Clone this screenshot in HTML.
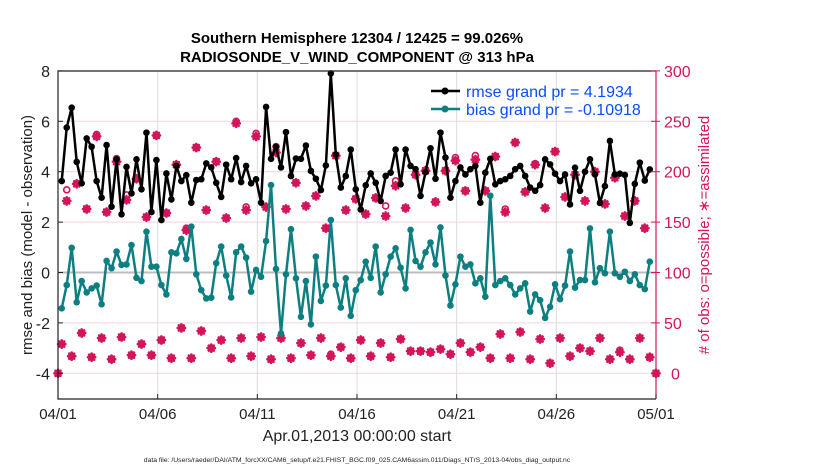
<!DOCTYPE html>
<html><head><meta charset="utf-8"><style>
html,body{margin:0;padding:0;background:#fff;}
svg{display:block;font-family:"Liberation Sans",Arial,sans-serif;}
</style></head><body>
<svg id="chart" width="830" height="470" viewBox="0 0 830 470">
<text x="357" y="43" text-anchor="middle" font-size="15" font-weight="bold" fill="#000">Southern Hemisphere 12304 / 12425 = 99.026%</text>
<text x="357" y="62" text-anchor="middle" font-size="15" font-weight="bold" fill="#000">RADIOSONDE_V_WIND_COMPONENT @ 313 hPa</text>
<g id="grid"></g>
<g id="marks"></g>
<g id="axes"></g>
<g>
<line x1="431" y1="91" x2="460" y2="91" stroke="#000" stroke-width="2.5"/>
<circle cx="445" cy="91" r="3.5" fill="#000"/>
<text x="466" y="97" font-size="16" fill="#0a4cff">rmse grand pr = 4.1934</text>
<line x1="431" y1="109" x2="460" y2="109" stroke="#0d7f80" stroke-width="2.5"/>
<circle cx="445" cy="109" r="3.5" fill="#0d7f80"/>
<text x="466" y="115" font-size="16" fill="#0a4cff">bias grand pr = -0.10918</text>
</g>
<text transform="translate(32,235) rotate(-90)" text-anchor="middle" font-size="15" fill="#222">rmse and bias (model - observation)</text>
<text transform="translate(709,235) rotate(-90)" text-anchor="middle" font-size="15" fill="#d4145a"># of obs: o=possible; ∗=assimilated</text>
<text x="357" y="441" text-anchor="middle" font-size="16" fill="#222">Apr.01,2013 00:00:00 start</text>
<text x="357" y="462" text-anchor="middle" font-size="6.8" fill="#222">data file: /Users/raeder/DAI/ATM_forcXX/CAM6_setup/f.e21.FHIST_BGC.f09_025.CAM6assim.011/Diags_NTrS_2013-04/obs_diag_output.nc</text>
</svg>
<script>
const xTickLabels = ["04/01","04/06","04/11","04/16","04/21","04/26","05/01"];
const xTickDays = [0,5,10,15,20,25,30];
const yLeftTicks = [8,6,4,2,0,-2,-4];
const yRightTicks = [300,250,200,150,100,50,0];
const rmse = [3.63,5.75,6.54,4.39,3.54,5.32,4.99,3.63,2.97,5.06,2.61,4.49,2.31,4.19,3.14,4.49,3.30,5.55,2.40,4.46,2.08,3.93,2.90,4.23,3.63,3.86,2.77,3.67,3.70,4.33,4.17,3.56,
3.00,4.28,3.70,4.54,3.59,4.23,3.54,3.70,2.77,6.57,4.51,4.99,4.17,5.57,3.83,4.52,4.51,5.04,4.03,3.72,3.27,4.25,7.90,4.68,3.37,3.83,4.88,3.30,2.50,3.46,3.93,
3.56,2.84,3.83,3.96,4.88,3.50,4.88,4.23,4.10,3.04,3.98,4.93,3.72,5.55,4.56,2.97,3.63,4.17,3.89,4.10,4.23,2.77,3.96,4.51,3.50,3.63,3.70,3.83,4.10,4.23,3.83,
3.37,3.24,3.47,4.49,4.29,3.92,3.63,3.89,2.70,4.16,3.24,4.00,4.49,3.89,2.76,3.43,5.22,3.89,3.92,3.87,1.97,3.52,4.36,3.65,4.09];
const bias = [-1.42,-0.50,0.98,-1.18,-0.34,-0.79,-0.63,-0.52,-1.26,0.46,0.17,0.83,0.30,0.32,1.09,-0.21,-0.34,1.62,0.23,0.23,-0.50,-0.87,0.80,0.76,1.33,0.54,1.82,-0.07,-0.70,-1.03,-1.00,0.37,
1.03,-0.12,-0.99,0.80,1.03,0.59,-0.76,0.10,-0.17,1.25,3.47,0.14,-2.42,-0.07,1.72,-0.23,-1.76,-0.34,-2.06,0.63,-1.13,-0.52,2.08,-0.50,-1.39,-0.23,-1.72,-0.70,-0.30,0.43,-0.21,
1.03,-0.79,-0.07,0.63,0.96,0.19,-0.63,1.69,0.46,0.23,0.80,1.19,0.32,1.79,-0.12,-1.31,-0.47,0.63,0.23,0.32,-0.43,-0.23,-0.96,3.05,-0.50,-0.34,-0.23,-0.50,-0.87,-0.63,-0.43,
-1.55,-0.87,-1.10,-1.80,-1.36,-0.47,-1.06,-0.52,0.83,-0.60,-0.30,-0.30,1.75,-0.39,0.17,-0.03,1.62,-0.03,-0.17,0.03,-0.34,-0.07,-0.50,-0.66,0.43];
const assimilated = [0,29,171,17,188,40,163,16,235,35,160,14,210,36,172,18,193,29,155,18,236,33,159,15,207,45,142,15,224,42,162,25,210,
33,154,15,248,35,162,17,235,36,165,14,219,35,163,15,189,30,166,18,176,35,144,17,216,26,162,15,173,33,158,17,
174,30,156,16,186,34,164,22,197,22,201,21,170,24,201,19,211,30,181,21,212,26,181,15,215,39,160,15,229,41,180,
14,207,34,164,10,220,35,175,17,197,25,171,22,200,35,168,14,194,21,156,14,171,35,144,16,0];
const possible = [0,29,182,17,188,40,163,16,237,35,160,14,213,36,177,18,193,29,155,18,236,33,159,15,207,45,144,15,224,42,162,25,210,
33,154,15,250,35,165,17,238,36,165,14,225,35,163,15,189,30,166,18,176,35,144,19,216,26,162,15,173,33,158,17,
174,30,166,16,191,34,164,22,197,22,201,21,170,24,201,19,214,30,181,21,216,26,181,15,215,39,163,15,229,41,180,
14,208,34,164,10,220,35,175,17,197,25,171,22,200,35,168,14,194,23,156,14,171,35,144,16,0];

const NS = "http://www.w3.org/2000/svg";
const L = 58, R = 656, T = 71, B = 399;
function xDay(d){ return L + d/30*(R-L); }
function xIdx(i){ return xDay((4.5 + 6*i)/24); }
function yLeft(v){ return 272.5 - v*25.2; }
function yRight(v){ return yLeft(v/25 - 4); }
function mk(tag, attrs, parent){ const e=document.createElementNS(NS,tag); for(const k in attrs) e.setAttribute(k, attrs[k]); parent.appendChild(e); return e; }
const grid=document.getElementById('grid'), marks=document.getElementById('marks'), axes=document.getElementById('axes');

yRightTicks.forEach(v=>{ const g=mk('line',{x1:L,x2:R,y1:yRight(v),y2:yRight(v),stroke:'#f4d3df','stroke-width':1},grid);

 });
xTickDays.forEach(d=>{ const g=mk('line',{x1:xDay(d),x2:xDay(d),y1:T,y2:B,stroke:'#dcdcdc','stroke-width':1},grid);

 });
const zl=mk('line',{x1:L,x2:R,y1:yLeft(0),y2:yLeft(0),stroke:'#bdbdbd','stroke-width':2},grid);



function star(cx,cy,parent){
  const g=mk('g',{stroke:'#d4145a','stroke-width':2.6,'stroke-linecap':'round'},parent);
  
  
  const r=3.6;
  [[0,1],[1,0],[0.7,0.7],[0.7,-0.7]].forEach(([a,b])=>mk('line',{x1:cx-a*r,y1:cy-b*r,x2:cx+a*r,y2:cy+b*r},g));
}
possible.forEach((v,i)=>{ const x = i===possible.length-1 ? R : (i===0 ? L : xIdx(i-1));
  const c=mk('circle',{cx:x,cy:yRight(v),r:3,fill:'none',stroke:'#d4145a','stroke-width':1.6},marks);
  
   });
assimilated.forEach((v,i)=>{ const x = i===assimilated.length-1 ? R : (i===0 ? L : xIdx(i-1)); star(x,yRight(v),marks); });

function series(vals,color,name){
  const p=mk('polyline',{points:vals.map((v,i)=>xIdx(i).toFixed(1)+','+yLeft(v).toFixed(1)).join(' '),fill:'none',stroke:color,'stroke-width':2.5,'stroke-linejoin':'round'},marks);
  
  
  vals.forEach((v,i)=>{ const c=mk('circle',{cx:xIdx(i),cy:yLeft(v),r:3.3,fill:color},marks);
    
     });
}
series(bias,'#0d7f80','bias');
series(rmse,'#000','rmse');

const ax=mk('path',{d:`M${R},${T} L${L},${T} L${L},${B} L${R},${B}`,fill:'none',stroke:'#222','stroke-width':1.2},axes);


const ra=mk('line',{x1:R,x2:R,y1:T,y2:B,stroke:'#d4145a','stroke-width':1.2},axes);


yLeftTicks.forEach(v=>{ mk('line',{x1:L,x2:L+5,y1:yLeft(v),y2:yLeft(v),stroke:'#222'},axes);
  const t=mk('text',{x:50,y:yLeft(v)+6,'text-anchor':'end','font-size':16,fill:'#222'},axes); t.textContent=v;
  
   });
yRightTicks.forEach(v=>{ mk('line',{x1:R-5,x2:R+4,y1:yRight(v),y2:yRight(v),stroke:'#d4145a'},axes);
  const t=mk('text',{x:v===0?671:664,y:yRight(v)+6,'font-size':16,fill:'#d4145a'},axes); t.textContent=v;
  
   });
xTickLabels.forEach((s,i)=>{ const x=xDay(xTickDays[i]);
  mk('line',{x1:x,x2:x,y1:B,y2:B-5,stroke:'#222'},axes);
  const t=mk('text',{x:x,y:419,'text-anchor':'middle','font-size':15,fill:'#222'},axes); t.textContent=s;
  
   });
</script>
</body></html>
